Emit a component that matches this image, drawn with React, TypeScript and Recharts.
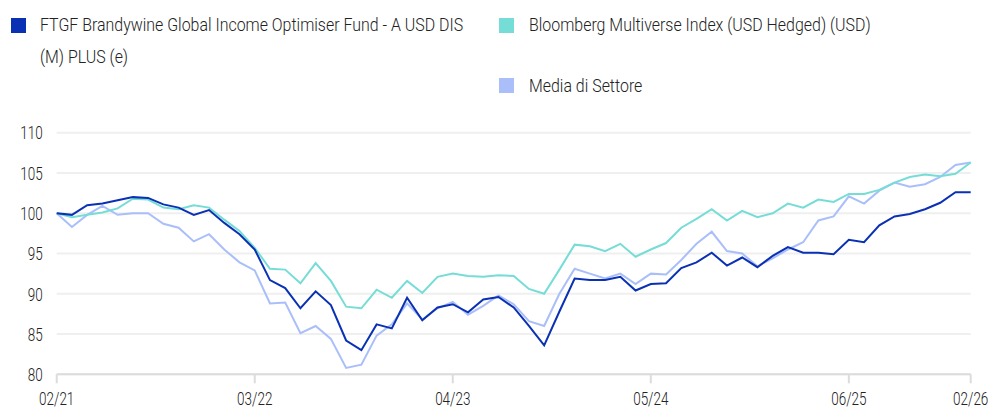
import React from 'react';
import { LineChart, Line, XAxis, YAxis, CartesianGrid } from 'recharts';

const months = [
  '02/21','03/21','04/21','05/21','06/21','07/21','08/21','09/21','10/21','11/21','12/21',
  '01/22','02/22','03/22','04/22','05/22','06/22','07/22','08/22','09/22','10/22','11/22','12/22',
  '01/23','02/23','03/23','04/23','05/23','06/23','07/23','08/23','09/23','10/23','11/23','12/23',
  '01/24','02/24','03/24','04/24','05/24','06/24','07/24','08/24','09/24','10/24','11/24','12/24',
  '01/25','02/25','03/25','04/25','05/25','06/25','07/25','08/25','09/25','10/25','11/25','12/25',
  '01/26','02/26',
];

const fund = [
  100, 99.8, 101.0, 101.2, 101.6, 102.0, 101.9, 101.1, 100.7, 99.8, 100.4,
  98.8, 97.4, 95.5, 91.7, 90.7, 88.2, 90.3, 88.6, 84.2, 83.0, 86.2, 85.7,
  89.5, 86.7, 88.3, 88.7, 87.7, 89.3, 89.6, 88.3, 86.0, 83.6, 87.8, 91.9,
  91.7, 91.7, 92.1, 90.4, 91.2, 91.3, 93.2, 93.9, 95.1, 93.5, 94.5, 93.3,
  94.7, 95.8, 95.1, 95.1, 94.9, 96.7, 96.4, 98.5, 99.6, 99.9, 100.5, 101.3,
  102.6, 102.6,
];

const benchmark = [
  100, 99.5, 99.8, 100.1, 100.6, 101.8, 101.7, 100.7, 100.5, 101.0, 100.7,
  99.2, 97.8, 95.7, 93.1, 93.0, 91.3, 93.8, 91.6, 88.4, 88.2, 90.5, 89.5,
  91.6, 90.1, 92.1, 92.5, 92.2, 92.1, 92.3, 92.2, 90.6, 90.0, 93.0, 96.1,
  95.9, 95.3, 96.2, 94.6, 95.5, 96.3, 98.2, 99.3, 100.5, 99.1, 100.3, 99.5,
  100.0, 101.2, 100.7, 101.7, 101.4, 102.4, 102.4, 102.9, 103.8, 104.5, 104.8, 104.6,
  104.9, 106.3,
];

const sector = [
  100, 98.3, 99.8, 100.9, 99.8, 100.0, 100.0, 98.7, 98.2, 96.5, 97.4,
  95.5, 93.9, 92.9, 88.8, 88.9, 85.1, 86.0, 84.4, 80.8, 81.2, 84.8, 86.2,
  88.8, 86.8, 88.2, 89.0, 87.4, 88.5, 89.8, 88.7, 86.6, 86.0, 90.0, 93.1,
  92.5, 91.9, 92.5, 91.2, 92.5, 92.4, 94.2, 96.2, 97.7, 95.3, 95.0, 93.4,
  94.4, 95.5, 96.4, 99.1, 99.6, 102.1, 101.2, 102.8, 103.8, 103.3, 103.6, 104.5,
  106.0, 106.3,
];

const xTickLabels = ['02/21', '03/22', '04/23', '05/24', '06/25', '02/26'];
const yTicks = [80, 85, 90, 95, 100, 105, 110];

const legendLine1 = ['FTGF Brandywine Global Income Optimiser Fund - A USD DIS', '(M) PLUS (e)'];
const seriesNames = [
  legendLine1.join(' '),
  'Bloomberg Multiverse Index (USD Hedged) (USD)',
  'Media di Settore',
];
const colors = ['#0a31b4', '#76ddd6', '#aabffa'];

const data = months.map((m, i) => ({
  idx: i,
  label: m,
  fund: fund[i],
  benchmark: benchmark[i],
  sector: sector[i],
}));

const xTickIdx = xTickLabels.map((l) => months.indexOf(l));

const FONT = 'Roboto, "Liberation Sans", sans-serif';
const TICK_SX = 0.71;
const LEG_SX = 0.885;

const XTick = (props: any) => {
  const { x, y, payload } = props;
  return (
    <text
      transform={`translate(${x},${y}) scale(${TICK_SX},1)`}
      textAnchor="middle"
      dy="0.71em"
      fill="#222"
      fontSize={19}
      fontWeight={300}
      fontFamily={FONT}
    >
      {months[payload.value]}
    </text>
  );
};

const YTick = (props: any) => {
  const { x, y, payload } = props;
  return (
    <text
      transform={`translate(${x},${y}) scale(${TICK_SX},1)`}
      textAnchor="end"
      dy="0.355em"
      fill="#222"
      fontSize={19}
      fontWeight={300}
      fontFamily={FONT}
    >
      {payload.value}
    </text>
  );
};

export default function App() {
  const textStyle: React.CSSProperties = {
    position: 'absolute',
    fontFamily: FONT,
    fontSize: 18,
    fontWeight: 300,
    color: '#222',
    lineHeight: '32px',
    whiteSpace: 'nowrap',
    transform: `scaleX(${LEG_SX})`,
    transformOrigin: 'left top',
  };
  const sq = (c: string, left: number, top: number) => (
    <div style={{ position: 'absolute', left, top, width: 15, height: 15, background: c }} />
  );
  return (
    <div style={{ position: 'fixed', left: 0, top: 0, width: 991, height: 412, background: '#fff' }}>
      {sq(colors[0], 11, 18)}
      <div style={{ ...textStyle, left: 40, top: 9 }}>
        {legendLine1[0]}
        <br />
        {legendLine1[1]}
      </div>
      {sq(colors[1], 499, 18)}
      <div style={{ ...textStyle, left: 529, top: 9 }}>{seriesNames[1]}</div>
      {sq(colors[2], 499, 78)}
      <div style={{ ...textStyle, left: 529, top: 70 }}>{seriesNames[2]}</div>
      <div style={{ position: 'absolute', left: 0, top: 0 }}>
        <LineChart
          width={991}
          height={412}
          data={data}
          margin={{ top: 132.7, right: 20.3, left: 0, bottom: 7.7 }}
        >
          <CartesianGrid vertical={false} stroke="#efefef" strokeWidth={2} />
          <XAxis
            dataKey="idx"
            type="number"
            domain={[0, 60]}
            ticks={xTickIdx}
            height={30}
            axisLine={{ stroke: '#dcdcdc', strokeWidth: 2 }}
            tickLine={{ stroke: '#dcdcdc', strokeWidth: 2 }}
            tickSize={9}
            tickMargin={8}
            tick={<XTick />}
            interval={0}
          />
          <YAxis
            domain={[80, 110]}
            ticks={yTicks}
            width={56.7}
            axisLine={false}
            tickLine={false}
            tickSize={0}
            tickMargin={14}
            tick={<YTick />}
            interval={0}
          />
          <Line dataKey="sector" stroke={colors[2]} strokeWidth={2} dot={false} isAnimationActive={false} />
          <Line dataKey="benchmark" stroke={colors[1]} strokeWidth={2} dot={false} isAnimationActive={false} />
          <Line dataKey="fund" stroke={colors[0]} strokeWidth={2} dot={false} isAnimationActive={false} />
        </LineChart>
      </div>
    </div>
  );
}
